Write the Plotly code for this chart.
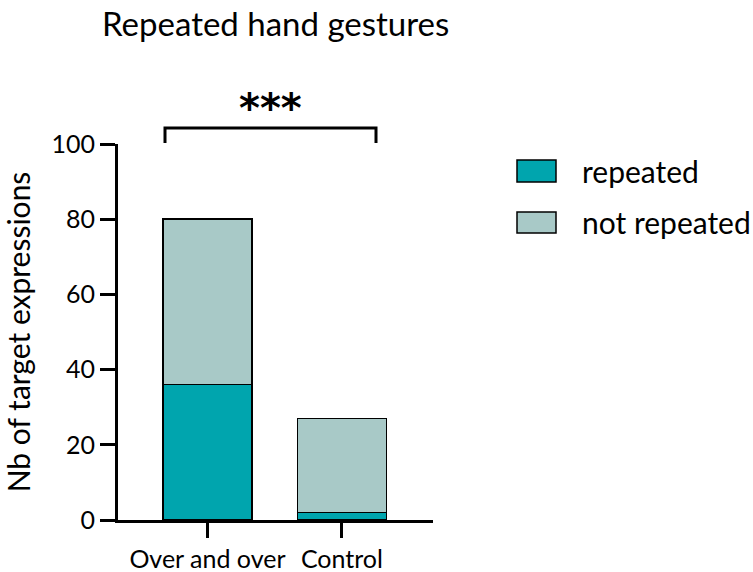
import plotly.graph_objects as go

categories = ["Over and over", "Control"]
series_names = ["repeated", "not repeated"]
repeated = [36, 2]
not_repeated = [44, 25]
series_values = [repeated, not_repeated]
colors = ["#00A5AE", "#A8C9C7"]
y_ticks = [0, 20, 40, 60, 80, 100]
title_text = "Repeated hand gestures"
y_title = "Nb of target expressions"
significance = "***"

FONT = "Lato"

fig = go.Figure()
for name, vals, col in zip(series_names, series_values, colors):
    fig.add_trace(go.Bar(
        x=categories, y=vals, name=name, width=0.66,
        marker=dict(color=col, line=dict(color="black", width=1.5)),
        showlegend=False,
    ))

fig.update_layout(
    barmode="stack",
    width=753, height=572,
    margin=dict(l=118, r=320, t=144, b=52, autoexpand=False),
    plot_bgcolor="white", paper_bgcolor="white",
    font=dict(family=FONT, color="black", size=25),
)
fig.update_xaxes(
    range=[-0.665, 1.677], showline=True, linewidth=3, linecolor="black",
    ticks="outside", ticklen=15, tickwidth=3, tickcolor="black",
    showgrid=False, zeroline=False, automargin=False,
    tickfont=dict(size=25, family=FONT),
)
fig.update_yaxes(
    range=[0, 100], tickvals=y_ticks, showline=True, linewidth=3, linecolor="black",
    ticks="outside", ticklen=15, tickwidth=3, tickcolor="black",
    showgrid=False, zeroline=False, automargin=False,
    tickfont=dict(size=25, family=FONT),
    title=dict(text=y_title, font=dict(size=30, family=FONT), standoff=13),
)

# title
fig.add_annotation(text=title_text, xref="paper", yref="paper",
                   x=(100 - 118) / 315, y=(520 - 23) / 376,
                   xanchor="left", yanchor="middle", showarrow=False,
                   font=dict(size=33, family=FONT))

# significance bracket
x0, x1 = (165 - 118) / 315, (376 - 118) / 315
yb, yt = (520 - 143) / 376, (520 - 128) / 376
fig.add_shape(type="path", xref="paper", yref="paper",
              path=f"M {x0} {yb} L {x0} {yt} L {x1} {yt} L {x1} {yb}",
              line=dict(color="black", width=3))
fig.add_annotation(text=f"<b>{significance}</b>", xref="paper", yref="paper",
                   x=(x0 + x1) / 2, y=(520 - 108) / 376,
                   xanchor="center", yanchor="middle", showarrow=False,
                   font=dict(size=40, family="DejaVu Sans"))

# legend
leg_rows = [(160, 182, 171), (212, 233, 222)]
for (t, b, c), name, col in zip(leg_rows, series_names, colors):
    fig.add_shape(type="rect", xref="paper", yref="paper",
                  x0=(517 - 118) / 315, x1=(556 - 118) / 315,
                  y0=(520 - b) / 376, y1=(520 - t) / 376,
                  fillcolor=col, line=dict(color="black", width=1.5))
    fig.add_annotation(text=name, xref="paper", yref="paper",
                       x=(580 - 118) / 315, y=(520 - c) / 376,
                       xanchor="left", yanchor="middle", showarrow=False,
                       font=dict(size=30, family=FONT))

fig.write_html("out.html", config={"displayModeBar": False},
               post_script="document.body.style.margin='0';")
